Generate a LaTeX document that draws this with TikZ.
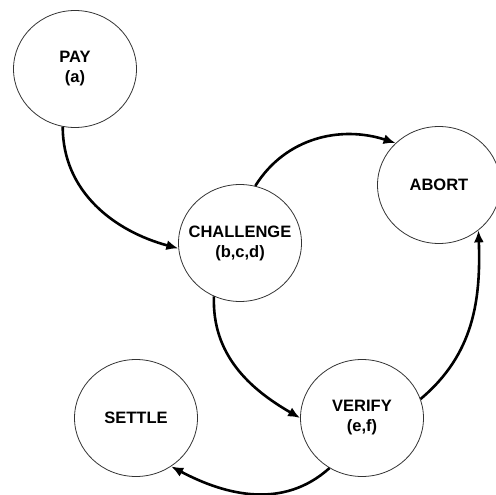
\documentclass[tikz,border=0pt]{standalone}
\usepackage{fontspec}
\setmainfont{Liberation Sans}
\usetikzlibrary{shapes.geometric,arrows.meta}
\begin{document}
\begin{tikzpicture}[x=1pt,y=-1pt,
  lab/.style={align=center,inner sep=0pt,font=\fontsize{16.5}{20}\selectfont\bfseries},
  state/.style={draw=black!80,line width=0.8pt,ellipse,minimum width=123pt,minimum height=117pt,inner sep=0pt,label={[lab]center:#1}},
  conn/.style={line width=2.6pt,-{Latex[length=12pt,width=10pt]}}]
\useasboundingbox (0,0) rectangle (496,495);
\node[state={PAY\\(a)}] (pay) at (75,69) {};
\node[state={CHALLENGE\\(b,c,d)}] (chal) at (240,243) {};
\node[state={ABORT}] (abort) at (439,185) {};
\node[state={SETTLE}] (settle) at (136,418) {};
\node[state={VERIFY\\(e,f)}] (verify) at (362,418) {};
\draw[conn] (pay.258) to[out=270,in=165] (chal.185);
\draw[conn] (chal.75) to[out=58,in=162] (abort.136);
\draw[conn] (chal.244) to[out=268,in=150] (verify.180);
\draw[conn] (verify.18) to[out=40,in=272] (abort.311);
\draw[conn] (verify.237) to[out=222,in=-28] (settle.306);
\end{tikzpicture}
\end{document}
